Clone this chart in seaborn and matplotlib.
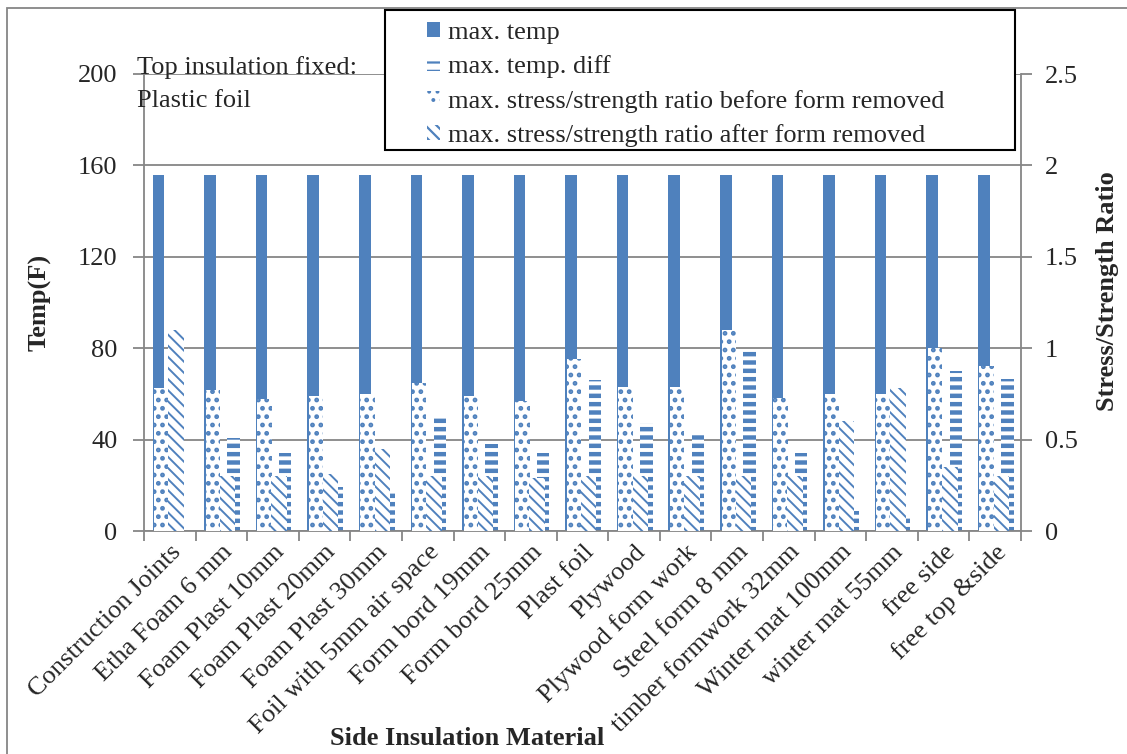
import numpy as np
import matplotlib
matplotlib.use("Agg")
import matplotlib.pyplot as plt
import seaborn as sns
from matplotlib.patches import Patch, Rectangle

materials = ["Construction Joints", "Etha Foam 6 mm", "Foam Plast 10mm", "Foam Plast 20mm",
             "Foam Plast 30mm", "Foil with 5mm air space", "Form bord 19mm", "Form bord 25mm",
             "Plast foil", "Plywood", "Plywood form work", "Steel form 8 mm",
             "timber formwork 32mm", "Winter mat 100mm", "winter mat 55mm", "free side",
             "free top &side"]
max_temp = [156, 156, 156, 156, 156, 156, 156, 156, 156, 156, 156, 156, 156, 156, 156, 156, 156]
max_temp_diff = [0, 40.6, 34.2, 19.4, 16.6, 50.7, 38, 34.2, 66, 47.3, 43.4, 79.4, 34.2, 8.9, 5.7, 70, 66.4]
ratio_before = [0.78, 0.77, 0.72, 0.74, 0.75, 0.81, 0.74, 0.71, 0.94, 0.79, 0.79, 1.10, 0.73, 0.75, 0.75, 1.00, 0.90]
ratio_after = [1.10, 0.30, 0.30, 0.31, 0.45, 0.30, 0.30, 0.29, 0.30, 0.30, 0.30, 0.30, 0.30, 0.60, 0.78, 0.35, 0.30]

temp_ticks = [0, 40, 80, 120, 160, 200]
ratio_ticks = [0, 0.5, 1, 1.5, 2, 2.5]
ratio_tick_labels = ["0", "0.5", "1", "1.5", "2", "2.5"]

BLUE = "#4F81BD"
GRID = "#868686"
FS = 19

sns.set_style("white")
plt.rcParams["font.family"] = ["Liberation Serif", "DejaVu Serif"]
plt.rcParams["hatch.linewidth"] = 1.6

fig = plt.figure(figsize=(11.27, 7.54), dpi=100)
ax = fig.add_axes([144 / 1127, 1 - 531 / 754, 877 / 1127, 457 / 754])
ax2 = ax.twinx()

idx = np.arange(len(materials))


def draw_bars(axis, values, offset, width, hatch=None, hatch_lw=None):
    n0 = len(axis.patches)
    sns.barplot(x=idx + offset, y=values, native_scale=True, width=width,
                color=BLUE, saturation=1, errorbar=None, ax=axis)
    for p in axis.patches[n0:]:
        p.set_linewidth(0)
        if hatch:
            p.set_facecolor("white")
            p.set_edgecolor(BLUE)
            p.set_hatch(hatch)
            if hatch_lw and hasattr(p, "set_hatch_linewidth"):
                p.set_hatch_linewidth(hatch_lw)


# primary axis: temperatures
draw_bars(ax, max_temp, -0.221, 0.225)
draw_bars(ax, max_temp_diff, 0.238, 0.24, hatch="--", hatch_lw=3.2)
# secondary axis: stress/strength ratios
draw_bars(ax2, ratio_before, -0.165, 0.28, hatch="..", hatch_lw=2.2)
draw_bars(ax2, ratio_after, 0.12, 0.30, hatch="\\\\\\", hatch_lw=1.4)

ax.set_xlim(-0.5, len(materials) - 0.5)
ax.set_ylim(0, 200)
ax2.set_ylim(0, 2.5)

ax.set_xticks(np.arange(-0.5, len(materials), 1))
ax.set_xticklabels([])
ax.set_xticks(idx, minor=True)
ax.set_xticklabels(materials, minor=True, rotation=45, ha="right", va="top",
                   rotation_mode="anchor", fontsize=FS)
ax.tick_params(axis="x", which="major", bottom=True, direction="out", length=7,
               width=1.3, color=GRID)
ax.tick_params(axis="x", which="minor", bottom=True, length=0, pad=7)

ax.set_yticks(temp_ticks)
ax.tick_params(axis="y", left=True, direction="out", length=8, width=1.3,
               color=GRID, pad=11, labelsize=FS)
ax2.set_yticks(ratio_ticks, labels=ratio_tick_labels)
ax2.tick_params(axis="y", right=True, direction="out", length=8, width=1.3,
                color=GRID, pad=9, labelsize=FS)

ax.yaxis.grid(True, color=GRID, lw=1.3)
ax.set_axisbelow(True)

for name, sp in ax.spines.items():
    sp.set_visible(name in ("left", "bottom"))
    sp.set_color(GRID)
    sp.set_linewidth(1.3)
for name, sp in ax2.spines.items():
    sp.set_visible(name == "right")
    sp.set_color(GRID)
    sp.set_linewidth(1.3)

ax.set_xlabel("Side Insulation Material", fontsize=FS, fontweight="bold")
ax.xaxis.set_label_coords((467 - 144) / 877, (531 - 727) / 457)
ax.set_ylabel("Temp(F)", fontsize=FS, fontweight="bold")
ax.yaxis.set_label_coords(-(144 - 52) / 877, 0.5)
ax2.set_ylabel("Stress/Strength Ratio", fontsize=FS, fontweight="bold")
ax2.yaxis.set_label_coords((1096 - 144) / 877, 0.525)

fig.text(137 / 1127, 1 - 56 / 754, "Top insulation fixed:\nPlastic foil",
         ha="left", va="top", fontsize=FS, linespacing=1.65)

# outer chart border
fig.add_artist(Rectangle((7 / 1127, -0.05), 1.1, 1 - 8 / 754 + 0.05,
                         transform=fig.transFigure, fill=False, ec=GRID, lw=1.3))

# legend box
fig.add_artist(Rectangle((385 / 1127, 1 - 150 / 754), 630 / 1127, 140 / 754,
                         transform=fig.transFigure, fc="white", ec="black",
                         lw=1.5, zorder=4))
handles = [
    Patch(facecolor=BLUE, edgecolor=BLUE, linewidth=0),
    Patch(facecolor="white", edgecolor=BLUE, hatch="--", linewidth=0),
    Patch(facecolor="white", edgecolor=BLUE, hatch="..", linewidth=0),
    Patch(facecolor="white", edgecolor=BLUE, hatch="\\\\\\", linewidth=0),
]
labels = ["max. temp", "max. temp. diff",
          "max. stress/strength ratio before form removed",
          "max. stress/strength ratio after form removed"]
leg = fig.legend(handles, labels, loc="upper left", bbox_to_anchor=(427 / 1127, 1 - 22 / 754),
                 frameon=False, fontsize=FS, handlelength=0.5, handleheight=0.5,
                 handletextpad=0.3, labelspacing=0.43, borderpad=0, borderaxespad=0)
leg.set_zorder(6)

fig.savefig("out.png", dpi=100)
